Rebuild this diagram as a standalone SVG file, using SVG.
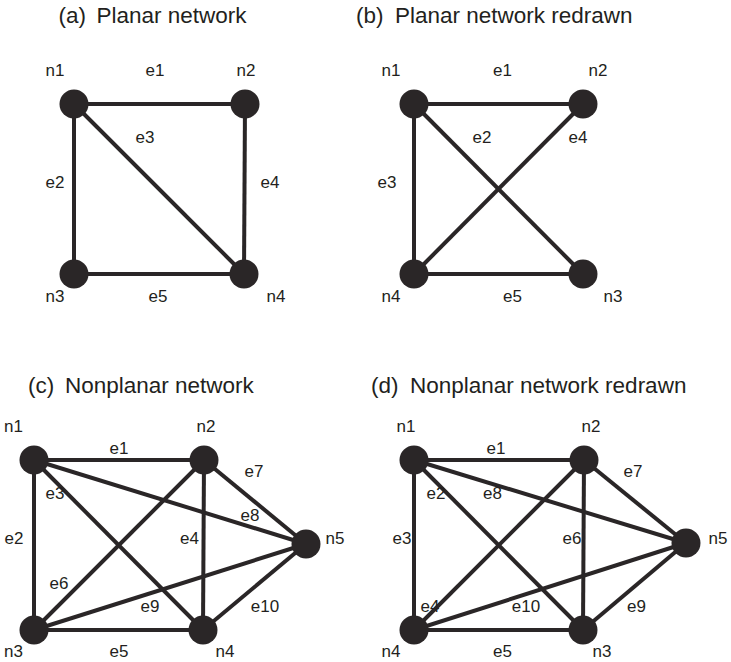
<svg xmlns="http://www.w3.org/2000/svg" width="731" height="662" viewBox="0 0 731 662">
<style>
.t{font-family:"Liberation Sans",Arial,sans-serif;font-size:22.5px;fill:#231f20}
.l{font-family:"Liberation Sans",Arial,sans-serif;font-size:17px;fill:#231f20;text-anchor:middle}
.e{stroke:#2a2627;stroke-width:4;fill:none}
.n{fill:#2a2627}
</style>
<rect width="731" height="662" fill="#ffffff"/>
<g id="titles">
<text class="t" x="58.5" y="23">(a)<tspan x="96.5">Planar network</tspan></text>
<text class="t" x="356" y="23">(b)<tspan x="395">Planar network redrawn</tspan></text>
<text class="t" x="28" y="393">(c)<tspan x="65">Nonplanar network</tspan></text>
<text class="t" x="371" y="393">(d)<tspan x="410">Nonplanar network redrawn</tspan></text>
</g>
<g id="connectors">
<!-- (a) -->
<line class="e" x1="74" y1="104" x2="245" y2="104"/>
<line class="e" x1="74" y1="104" x2="74" y2="274"/>
<line class="e" x1="74" y1="104" x2="244" y2="274"/>
<line class="e" x1="245" y1="104" x2="244" y2="274"/>
<line class="e" x1="74" y1="274" x2="244" y2="274"/>
<!-- (b) -->
<line class="e" x1="414" y1="104" x2="583" y2="104"/>
<line class="e" x1="414" y1="104" x2="583" y2="274"/>
<line class="e" x1="414" y1="104" x2="414" y2="274"/>
<line class="e" x1="583" y1="104" x2="414" y2="274"/>
<line class="e" x1="414" y1="274" x2="583" y2="274"/>
<!-- (c) -->
<line class="e" x1="34" y1="460" x2="204" y2="460"/>
<line class="e" x1="34" y1="460" x2="34" y2="630"/>
<line class="e" x1="34" y1="460" x2="203" y2="630"/>
<line class="e" x1="204" y1="460" x2="203" y2="630"/>
<line class="e" x1="34" y1="630" x2="203" y2="630"/>
<line class="e" x1="204" y1="460" x2="34" y2="630"/>
<line class="e" x1="204" y1="460" x2="306" y2="544"/>
<line class="e" x1="34" y1="460" x2="306" y2="544"/>
<line class="e" x1="34" y1="630" x2="306" y2="544"/>
<line class="e" x1="203" y1="630" x2="306" y2="544"/>
<!-- (d) -->
<line class="e" x1="414" y1="460" x2="584" y2="460"/>
<line class="e" x1="414" y1="460" x2="583" y2="630"/>
<line class="e" x1="414" y1="460" x2="414" y2="630"/>
<line class="e" x1="584" y1="460" x2="414" y2="630"/>
<line class="e" x1="414" y1="630" x2="583" y2="630"/>
<line class="e" x1="584" y1="460" x2="583" y2="630"/>
<line class="e" x1="584" y1="460" x2="686" y2="543"/>
<line class="e" x1="414" y1="460" x2="686" y2="543"/>
<line class="e" x1="583" y1="630" x2="686" y2="543"/>
<line class="e" x1="414" y1="630" x2="686" y2="543"/>
</g>
<g id="edge-labels">
<text class="l" x="155" y="76">e1</text>
<text class="l" x="145" y="143">e3</text>
<text class="l" x="55" y="188">e2</text>
<text class="l" x="270" y="188">e4</text>
<text class="l" x="158" y="302">e5</text>
<text class="l" x="502.5" y="76">e1</text>
<text class="l" x="482" y="143">e2</text>
<text class="l" x="578" y="143">e4</text>
<text class="l" x="387" y="188">e3</text>
<text class="l" x="512.5" y="302">e5</text>
<text class="l" x="119" y="454">e1</text>
<text class="l" x="254" y="477">e7</text>
<text class="l" x="55" y="499">e3</text>
<text class="l" x="250" y="521">e8</text>
<text class="l" x="14" y="544">e2</text>
<text class="l" x="189.5" y="544">e4</text>
<text class="l" x="59" y="589">e6</text>
<text class="l" x="150" y="612">e9</text>
<text class="l" x="265" y="612">e10</text>
<text class="l" x="119" y="657">e5</text>
<text class="l" x="496" y="454">e1</text>
<text class="l" x="633" y="477">e7</text>
<text class="l" x="436" y="499">e2</text>
<text class="l" x="492.5" y="499">e8</text>
<text class="l" x="402" y="544">e3</text>
<text class="l" x="572" y="544">e6</text>
<text class="l" x="430" y="612">e4</text>
<text class="l" x="526" y="612">e10</text>
<text class="l" x="636.5" y="612">e9</text>
<text class="l" x="502.5" y="657">e5</text>
</g>
<g id="a-n1"><circle class="n" cx="74" cy="104" r="14.5"/><text class="l" x="55" y="76">n1</text></g>
<g id="a-n2"><circle class="n" cx="245" cy="104" r="14.5"/><text class="l" x="246" y="76">n2</text></g>
<g id="a-n3"><circle class="n" cx="74" cy="274" r="14.5"/><text class="l" x="55" y="302">n3</text></g>
<g id="a-n4"><circle class="n" cx="244" cy="274" r="14.5"/><text class="l" x="276" y="302">n4</text></g>
<g id="b-n1"><circle class="n" cx="414" cy="104" r="14.5"/><text class="l" x="391" y="76">n1</text></g>
<g id="b-n2"><circle class="n" cx="583" cy="104" r="14.5"/><text class="l" x="598" y="76">n2</text></g>
<g id="b-n4"><circle class="n" cx="414" cy="274" r="14.5"/><text class="l" x="391" y="302">n4</text></g>
<g id="b-n3"><circle class="n" cx="583" cy="274" r="14.5"/><text class="l" x="613" y="302">n3</text></g>
<g id="c-n1"><circle class="n" cx="34" cy="460" r="14.5"/><text class="l" x="13.5" y="432">n1</text></g>
<g id="c-n2"><circle class="n" cx="204" cy="460" r="14.5"/><text class="l" x="206" y="432">n2</text></g>
<g id="c-n3"><circle class="n" cx="34" cy="630" r="14.5"/><text class="l" x="13.5" y="657">n3</text></g>
<g id="c-n4"><circle class="n" cx="203" cy="630" r="14.5"/><text class="l" x="225" y="657">n4</text></g>
<g id="c-n5"><circle class="n" cx="306" cy="544" r="14.5"/><text class="l" x="335" y="544">n5</text></g>
<g id="d-n1"><circle class="n" cx="414" cy="460" r="14.5"/><text class="l" x="406" y="432">n1</text></g>
<g id="d-n2"><circle class="n" cx="584" cy="460" r="14.5"/><text class="l" x="591" y="432">n2</text></g>
<g id="d-n4"><circle class="n" cx="414" cy="630" r="14.5"/><text class="l" x="391" y="657">n4</text></g>
<g id="d-n3"><circle class="n" cx="583" cy="630" r="14.5"/><text class="l" x="602" y="657">n3</text></g>
<g id="d-n5"><circle class="n" cx="686" cy="543" r="14.5"/><text class="l" x="718" y="544">n5</text></g>
</svg>
